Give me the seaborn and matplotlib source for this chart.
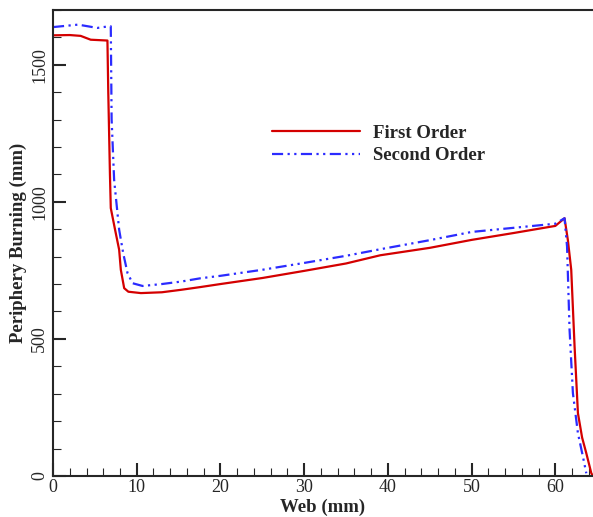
import pandas as pd
import matplotlib.pyplot as plt
import seaborn as sns
from matplotlib.ticker import MultipleLocator

# First order curve
first_web = [0, 2, 3.3, 4.5, 6.5, 6.6, 6.8, 6.9, 7.4, 7.9, 8.1, 8.5, 9.0, 10.5, 13, 15.3,
             17.6, 20, 25, 30, 35, 39.1, 45, 50, 55, 60, 61.1, 61.5, 61.9, 62.3, 62.7,
             63.2, 63.7, 64.3, 64.5]
first_burn = [1607, 1608, 1605, 1591, 1588, 1400, 1100, 977, 900, 825, 752, 685, 672, 667,
              670, 679, 689, 700, 722, 748, 775, 805, 832, 861, 886, 912, 940, 860, 752,
              472, 229, 140, 83, 10, 0]

# Second order curve
second_web = [0, 3, 5.3, 6.7, 6.9, 7.0, 7.3, 7.9, 8.4, 8.9, 9.5, 10.7, 13, 15.3, 17.6, 20,
              25, 30, 35, 39.1, 45, 50, 55, 60, 61.1, 61.4, 61.7, 62.1, 62.7, 63.3, 63.7]
second_burn = [1637, 1646, 1634, 1640, 1640, 1300, 1080, 898, 810, 740, 703, 693, 700, 709,
               721, 730, 752, 777, 803, 827, 860, 890, 905, 920, 940, 837, 533, 302, 156,
               70, 10]

first_df = pd.DataFrame({'Web': first_web, 'Burning': first_burn})
second_df = pd.DataFrame({'Web': second_web, 'Burning': second_burn})

sns.set_style('ticks')
plt.rcParams['font.family'] = ['Liberation Serif', 'DejaVu Serif']

fig = plt.figure(figsize=(5.93, 5.17), dpi=100)
ax = fig.add_axes([0.0894, 0.0793, 0.9106, 0.9017])

sns.lineplot(data=first_df, x='Web', y='Burning', sort=False, estimator=None,
             color='#d40000', linewidth=1.6, label='First Order', ax=ax)
sns.lineplot(data=second_df, x='Web', y='Burning', sort=False, estimator=None,
             color='#2b2bff', linewidth=1.6, label='Second Order', ax=ax)
ax.lines[1].set_dashes((5, 2, 1, 2, 1, 2))

ax.set_xlim(0, 64.5)
ax.set_ylim(0, 1700)
ax.xaxis.set_major_locator(MultipleLocator(10))
ax.xaxis.set_minor_locator(MultipleLocator(2))
ax.yaxis.set_major_locator(MultipleLocator(500))
ax.yaxis.set_minor_locator(MultipleLocator(100))
ax.tick_params(which='major', direction='in', length=9.5, width=1.5, labelsize=13)
ax.tick_params(axis='x', which='major', pad=2)
ax.tick_params(which='minor', direction='in', length=5.5, width=0.8)
for lbl in ax.get_yticklabels():
    lbl.set_rotation(90)
    lbl.set_va('center')

for side in ['left', 'bottom', 'top']:
    ax.spines[side].set_linewidth(1.5)
ax.spines['right'].set_visible(False)

ax.set_xlabel('Web (mm)', fontsize=13.5, fontweight='bold', labelpad=2)
ax.set_ylabel('Periphery Burning (mm)', fontsize=13.5, fontweight='bold', labelpad=3)

ax.legend(loc='upper left', bbox_to_anchor=(0.374, 0.79), frameon=False,
          handlelength=4.7, handletextpad=0.7, labelspacing=0.3,
          prop={'weight': 'bold', 'size': 13.5})

fig.savefig('out.png', dpi=100)
